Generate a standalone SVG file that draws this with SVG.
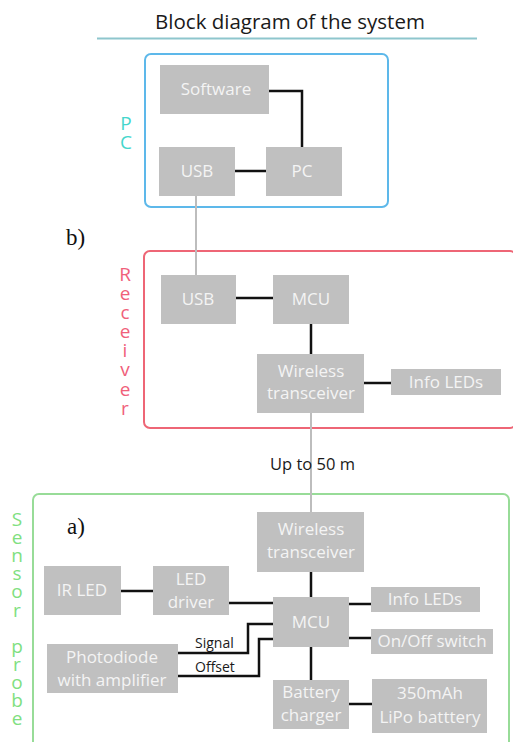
<svg xmlns="http://www.w3.org/2000/svg" width="513" height="742" viewBox="0 0 513 742">
<style>
.box{fill:#c0c0c0}
.bt{font-family:"Open Sans","Liberation Sans",sans-serif;font-size:17px;fill:#f4f4f4;text-anchor:middle}
.wire{fill:none;stroke:#111;stroke-width:2.5}
.gwire{fill:none;stroke:#bdbdbd;stroke-width:2}
.vl{font-family:"Open Sans","Liberation Sans",sans-serif;font-size:19px;text-anchor:middle}
.lab{font-family:"Open Sans","Liberation Sans",sans-serif;font-size:14px;fill:#1a1a1a}
.ser{font-family:"Liberation Serif",serif;font-size:23px;fill:#111}
</style>
<rect width="513" height="742" fill="#fff"/>
<text x="290" y="29" font-family="Open Sans, Liberation Sans, sans-serif" font-size="20.5" fill="#1a1a1a" text-anchor="middle">Block diagram of the system</text>
<line x1="97" y1="38.5" x2="477" y2="38.5" stroke="#8ec6cd" stroke-width="2"/>

<g id="group-pc">
<rect x="145" y="54" width="243" height="153" rx="6" fill="none" stroke="#5db8ea" stroke-width="2"/>
<text class="vl" fill="#45d6cc"><tspan x="126" y="130">P</tspan><tspan x="126" y="149">C</tspan></text>
</g>
<g id="group-receiver">
<rect x="144" y="251" width="372" height="177" rx="6" fill="none" stroke="#ee6676" stroke-width="2"/>
<text class="vl" fill="#f0607a"><tspan x="125" y="281">R</tspan><tspan x="125" y="300">e</tspan><tspan x="125" y="319">c</tspan><tspan x="125" y="338">e</tspan><tspan x="125" y="357">i</tspan><tspan x="125" y="376">v</tspan><tspan x="125" y="396">e</tspan><tspan x="125" y="415">r</tspan></text>
</g>
<g id="group-sensor">
<rect x="33" y="494" width="476" height="270" rx="6" fill="none" stroke="#98dc98" stroke-width="2"/>
<text class="vl" fill="#80e080"><tspan x="17" y="526">S</tspan><tspan x="17" y="544">e</tspan><tspan x="17" y="562">n</tspan><tspan x="17" y="580">s</tspan><tspan x="17" y="598">o</tspan><tspan x="17" y="617">r</tspan><tspan x="17" y="653">p</tspan><tspan x="17" y="671">r</tspan><tspan x="17" y="689">o</tspan><tspan x="17" y="707">b</tspan><tspan x="17" y="725">e</tspan></text>
</g>

<g id="connectors">
<polyline class="wire" points="269,91 302,91 302,147"/>
<line class="wire" x1="235" y1="171" x2="266" y2="171"/>
<line class="gwire" x1="196" y1="196" x2="196" y2="275"/>
<line class="wire" x1="236" y1="298" x2="273" y2="298"/>
<line class="wire" x1="311" y1="324" x2="311" y2="354"/>
<line class="wire" x1="364" y1="383" x2="391" y2="383"/>
<line class="gwire" x1="311" y1="413" x2="311" y2="512"/>
<line class="wire" x1="311" y1="572" x2="311" y2="597"/>
<line class="wire" x1="349" y1="604" x2="371" y2="604"/>
<line class="wire" x1="349" y1="638" x2="371" y2="638"/>
<line class="wire" x1="311" y1="647" x2="311" y2="680"/>
<line class="wire" x1="349" y1="704" x2="372" y2="704"/>
<line class="wire" x1="121" y1="591" x2="153" y2="591"/>
<line class="wire" x1="229" y1="603" x2="273" y2="603"/>
<polyline class="wire" points="178,653 248,653 248,624 273,624"/>
<polyline class="wire" points="178,676 259,676 259,639 273,639"/>
<text class="lab" x="195" y="648">Signal</text>
<text class="lab" x="195" y="672">Offset</text>
<text x="270" y="470" font-family="Open Sans, Liberation Sans, sans-serif" font-size="16.5" fill="#1a1a1a">Up to 50 m</text>
</g>

<text class="ser" x="66" y="245">b)</text>
<text class="ser" x="67" y="534">a)</text>

<g id="pc-software"><rect class="box" x="160" y="65" width="109" height="49"/><text class="bt" x="216" y="95">Software</text></g>
<g id="pc-usb"><rect class="box" x="159" y="147" width="76" height="49"/><text class="bt" x="197" y="177">USB</text></g>
<g id="pc-pc"><rect class="box" x="266" y="147" width="76" height="49"/><text class="bt" x="302" y="177">PC</text></g>

<g id="rx-usb"><rect class="box" x="161" y="275" width="75" height="49"/><text class="bt" x="198" y="305">USB</text></g>
<g id="rx-mcu"><rect class="box" x="273" y="275" width="76" height="49"/><text class="bt" x="311" y="305">MCU</text></g>
<g id="rx-wireless"><rect class="box" x="257" y="354" width="107" height="59"/><text class="bt" x="311" y="377">Wireless</text><text class="bt" x="311" y="399">transceiver</text></g>
<g id="rx-info"><rect class="box" x="391" y="369" width="110" height="26"/><text class="bt" x="446" y="388">Info LEDs</text></g>

<g id="sp-wireless"><rect class="box" x="257" y="512" width="107" height="60"/><text class="bt" x="311" y="535">Wireless</text><text class="bt" x="311" y="558">transceiver</text></g>
<g id="sp-mcu"><rect class="box" x="273" y="597" width="76" height="50"/><text class="bt" x="311" y="628">MCU</text></g>
<g id="sp-info"><rect class="box" x="371" y="587" width="109" height="25"/><text class="bt" x="425" y="605">Info LEDs</text></g>
<g id="sp-switch"><rect class="box" x="371" y="629" width="122" height="25"/><text class="bt" x="432" y="647">On/Off switch</text></g>
<g id="sp-charger"><rect class="box" x="273" y="680" width="76" height="49"/><text class="bt" x="311" y="698">Battery</text><text class="bt" x="311" y="721">charger</text></g>
<g id="sp-battery"><rect class="box" x="372" y="679" width="115" height="54"/><text class="bt" x="430" y="699">350mAh</text><text class="bt" x="430" y="723">LiPo batttery</text></g>
<g id="sp-irled"><rect class="box" x="44" y="566" width="77" height="49"/><text class="bt" x="82" y="596">IR LED</text></g>
<g id="sp-driver"><rect class="box" x="153" y="566" width="76" height="49"/><text class="bt" x="191" y="585">LED</text><text class="bt" x="191" y="608">driver</text></g>
<g id="sp-photodiode"><rect class="box" x="47" y="644" width="131" height="49"/><text class="bt" x="112" y="663">Photodiode</text><text class="bt" x="112" y="686">with amplifier</text></g>
</svg>
